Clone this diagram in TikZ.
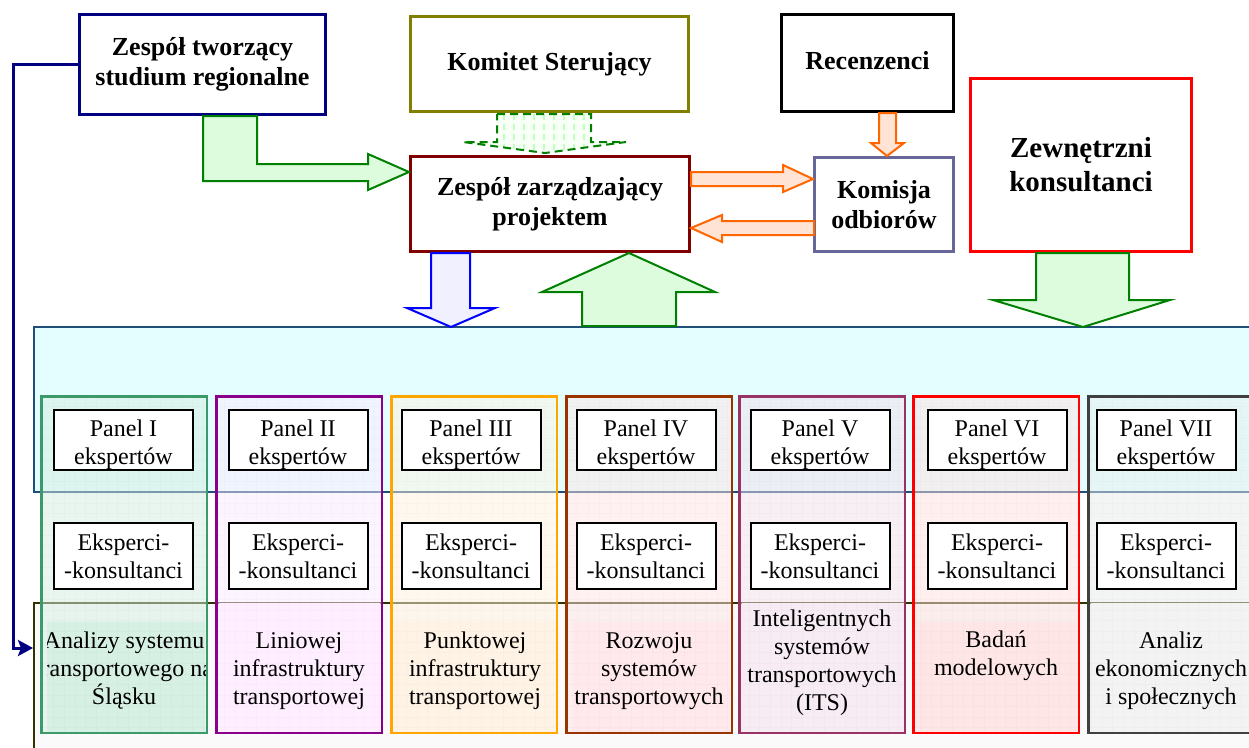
\documentclass[tikz,border=0pt]{standalone}
\usepackage{fontspec}
\setmainfont{Liberation Serif}
\usetikzlibrary{arrows.meta,calc}
\definecolor{navy}{HTML}{000080}
\definecolor{olive}{HTML}{808000}
\definecolor{darkred}{HTML}{800000}
\definecolor{slate}{HTML}{666699}
\definecolor{gstroke}{HTML}{008000}
\definecolor{gfill}{HTML}{DDFCDD}
\definecolor{ostroke}{HTML}{FF6600}
\definecolor{ofill}{HTML}{FFE4D5}
\definecolor{bstroke}{HTML}{0000FF}
\definecolor{bfill}{HTML}{F0F0FF}
\definecolor{cyanfill}{HTML}{E4FEFF}
\definecolor{rowborder}{HTML}{1F4E79}
\definecolor{botborder}{HTML}{333300}
\definecolor{cA}{HTML}{3A9A6A}\definecolor{tA}{HTML}{D5EDE1}\definecolor{lA}{HTML}{D6F1E3}
\definecolor{cB}{HTML}{8B008B}\definecolor{tB}{HTML}{FBEBFF}\definecolor{lB}{HTML}{FFEEFF}
\definecolor{cC}{HTML}{FFA500}\definecolor{tC}{HTML}{FFF3E1}\definecolor{lC}{HTML}{FFF3E6}
\definecolor{cD}{HTML}{993300}\definecolor{tD}{HTML}{FFE5E5}\definecolor{lD}{HTML}{FFE9EC}
\definecolor{cE}{HTML}{993366}\definecolor{tE}{HTML}{F3E1ED}\definecolor{lE}{HTML}{F7EBF4}
\definecolor{cF}{HTML}{FF0000}\definecolor{tF}{HTML}{FFE1E1}\definecolor{lF}{HTML}{FFE6E6}
\definecolor{cG}{HTML}{404040}\definecolor{tG}{HTML}{E9EDED}\definecolor{lG}{HTML}{F3F3F3}
\newcommand{\pstrut}{\rule{0pt}{26pt}}
\begin{document}
\begin{tikzpicture}[x=1pt,y=-1pt,
  topbox/.style={draw, line width=3pt, fill=white, align=center, inner sep=0pt,
    font=\bfseries\fontsize{26}{30}\selectfont},
  smallbox/.style={draw=black, line width=2pt, fill=white, align=center, inner sep=0pt,
    minimum width=139pt, font=\fontsize{24}{28}\selectfont},
  coltext/.style={align=center, inner sep=0pt, font=\fontsize{24}{28}\selectfont},
  colnode/.style={anchor=north west, minimum width=165.5pt, minimum height=336.5pt,
    inner sep=0pt, outer sep=0pt, fill=#1, fill opacity=0.5},
  gridline/.style={draw=black, draw opacity=0.02, line width=0.8pt},
  blockarrow/.style={line width=2pt, line join=miter}
]
\clip (0,0) rectangle (1249,747);
\fill[white] (0,0) rectangle (1249,747);

% ---- big background boxes ----
\node[anchor=north west, minimum width=1240pt, minimum height=165pt, inner sep=0pt, outer sep=0pt,
  fill=cyanfill, draw=rowborder, line width=2pt] (prow) at (34,327) {};
\node[anchor=north west, minimum width=1240pt, minimum height=200pt, inner sep=0pt, outer sep=0pt,
  fill=white!98!black, draw=botborder, line width=2pt] (bot) at (34,603) {};

% ---- columns ----
\node[colnode=tA] (c1) at (41.25,396.25) {};
\node[colnode=tB] (c2) at (216.25,396.25) {};
\node[colnode=tC] (c3) at (391.25,396.25) {};
\node[colnode=tD] (c4) at (566.25,396.25) {};
\node[colnode=tE] (c5) at (739.25,396.25) {};
\node[colnode=tF] (c6) at (913.25,396.25) {};
\node[colnode=tG] (c7) at (1088.25,396.25) {};

% lower text fills
\fill[lA] (47,622) rectangle (205,732);
\fill[lB] (219,603) rectangle (380,732);
\fill[lC] (394,622) rectangle (556,732);
\fill[lD] (572,622) rectangle (730,732);
\fill[lE] (742,603) rectangle (904,732);
\fill[lF] (918,622) rectangle (1077,732);
\fill[lG] (1091,603) rectangle (1260,732);

% faint grid
\foreach \c in {c1,c2,c3,c4,c5,c6,c7}{
  \begin{scope}
    \clip (\c.north west) rectangle (\c.south east);
    \draw[gridline] (\c.north west) grid[step=10.7pt] (\c.south east);
  \end{scope}
}

% column borders
\draw[cA, line width=2.5pt] (c1.north west) rectangle (c1.south east);
\draw[cB, line width=2.5pt] (c2.north west) rectangle (c2.south east);
\draw[cC, line width=2.5pt] (c3.north west) rectangle (c3.south east);
\draw[cD, line width=2.5pt] (c4.north west) rectangle (c4.south east);
\draw[cE, line width=2.5pt] (c5.north west) rectangle (c5.south east);
\draw[cF, line width=2.5pt] (c6.north west) rectangle (c6.south east);
\draw[cG, line width=2.5pt] (c7.north west) rectangle (c7.south east);

% ---- panel boxes ----
\node[smallbox, minimum height=58pt] (p1) at (123.5,440) {\pstrut Panel I\\ekspertów};
\node[smallbox, minimum height=58pt] (p2) at (298,440) {\pstrut Panel II\\ekspertów};
\node[smallbox, minimum height=58pt] (p3) at (471,440) {\pstrut Panel III\\ekspertów};
\node[smallbox, minimum height=58pt] (p4) at (646,440) {\pstrut Panel IV\\ekspertów};
\node[smallbox, minimum height=58pt] (p5) at (820,440) {\pstrut Panel V\\ekspertów};
\node[smallbox, minimum height=58pt] (p6) at (997,440) {\pstrut Panel VI\\ekspertów};
\node[smallbox, minimum height=58pt] (p7) at (1166,440) {\pstrut Panel VII\\ekspertów};

\node[smallbox, minimum height=66pt] (e1) at (123.5,556) {Eksperci-\\-konsultanci};
\node[smallbox, minimum height=66pt] (e2) at (298,556) {Eksperci-\\-konsultanci};
\node[smallbox, minimum height=66pt] (e3) at (471,556) {Eksperci-\\-konsultanci};
\node[smallbox, minimum height=66pt] (e4) at (646,556) {Eksperci-\\-konsultanci};
\node[smallbox, minimum height=66pt] (e5) at (820,556) {Eksperci-\\-konsultanci};
\node[smallbox, minimum height=66pt] (e6) at (997,556) {Eksperci-\\-konsultanci};
\node[smallbox, minimum height=66pt] (e7) at (1166,556) {Eksperci-\\-konsultanci};

% ---- column texts ----
\begin{scope}
  \clip (47,603) rectangle (205,734);
  \node[coltext] (t1) at (124,671) {Analizy systemu\\transportowego na\\Śląsku};
\end{scope}
\node[coltext] (t2) at (299,671) {Liniowej\\infrastruktury\\transportowej};
\node[coltext] (t3) at (475,671) {Punktowej\\infrastruktury\\transportowej};
\node[coltext] (t4) at (649,671) {Rozwoju\\systemów\\transportowych};
\node[coltext] (t5) at (822,663) {Inteligentnych\\systemów\\transportowych\\(ITS)};
\node[coltext] (t6) at (996,656) {Badań\\modelowych};
\node[coltext] (t7) at (1171,671) {Analiz\\ekonomicznych\\i społecznych};

% ---- top boxes ----
\node[topbox, draw=navy, minimum width=246pt, minimum height=100pt] (zt) at (202.5,64.5) {Zespół tworzący\\studium regionalne};
\node[topbox, draw=olive, minimum width=278pt, minimum height=95pt] (ks) at (549.5,64) {Komitet Sterujący};
\node[topbox, draw=black, minimum width=172pt, minimum height=97pt] (rec) at (867.5,63) {\raisebox{5pt}{Recenzenci}};
\node[topbox, draw=darkred, minimum width=279pt, minimum height=95pt] (zz) at (550,204) {Zespół zarządzający\\projektem};
\node[topbox, draw=slate, minimum width=139pt, minimum height=94pt] (kom) at (884,204.5) {Komisja\\odbiorów};
\node[topbox, draw=red, minimum width=221pt, minimum height=173pt, font=\bfseries\fontsize{29}{34}\selectfont] (zk) at (1081,165) {Zewnętrzni\\konsultanci};

% ---- block arrows ----
% zt -> zz (bent)
\draw[blockarrow, draw=gstroke, fill=gfill] (203,116) -- (257,116) -- (257,164) -- (368,164) -- (368,154)
  -- (zz.west |- 0,172) -- (368,190) -- (368,181) -- (203,181) -- cycle;
% ks -> zz (dashed, patterned)
\path[fill=green!3] (497,114) -- (591,114) -- (591,142) -- (626,142) -- (545,153) -- (463,142) -- (497,142) -- cycle;
\begin{scope}
  \clip (497,114) -- (591,114) -- (591,142) -- (626,142) -- (545,153) -- (463,142) -- (497,142) -- cycle;
  \foreach \x in {504,514,...,590}
    \draw[draw=green!25, line width=1.5pt, dash pattern=on 6pt off 4pt] (\x,114) -- (\x,156);
\end{scope}
\draw[blockarrow, draw=gstroke, dash pattern=on 8pt off 5pt] (497,114) -- (591,114) -- (591,142) -- (626,142)
  -- (545,153) -- (463,142) -- (497,142) -- cycle;
% zz -> kom
\draw[blockarrow, draw=ostroke, fill=ofill] (691,172) -- (783,172) -- (783,165) -- (kom.west |- 0,179)
  -- (783,192) -- (783,186) -- (691,186) -- cycle;
% kom -> zz
\draw[blockarrow, draw=ostroke, fill=ofill] (814,221) -- (722,221) -- (722,215) -- (zz.east |- 0,228)
  -- (722,242) -- (722,235) -- (814,235) -- cycle;
% rec -> kom
\draw[blockarrow, draw=ostroke, fill=ofill] (879,113) -- (896,113) -- (896,143) -- (904,143)
  -- (kom.north -| 887,0) -- (871,143) -- (879,143) -- cycle;
% zk -> panel row
\draw[blockarrow, draw=gstroke, fill=gfill] (1036,253) -- (1129,253) -- (1129,300) -- (1170,300)
  -- (prow.north -| 1083,0) -- (993,300) -- (1036,300) -- cycle;
% zz -> panel row
\draw[blockarrow, draw=bstroke, fill=bfill] (431,253) -- (470,253) -- (470,308) -- (495,308)
  -- (prow.north -| 451,0) -- (407,308) -- (431,308) -- cycle;
% panel row -> zz
\draw[blockarrow, draw=gstroke, fill=gfill] (582,326) -- (676,326) -- (676,292) -- (715,292)
  -- (zz.south -| 629,0) -- (542,292) -- (582,292) -- cycle;

% ---- navy connector ----
\coordinate (entry) at (33,648);
\draw[navy, line width=3pt, -{Stealth[length=15pt,width=16pt,inset=3pt]}] (zt.west) -- ++(-65,0) |- (entry);
\end{tikzpicture}
\end{document}
